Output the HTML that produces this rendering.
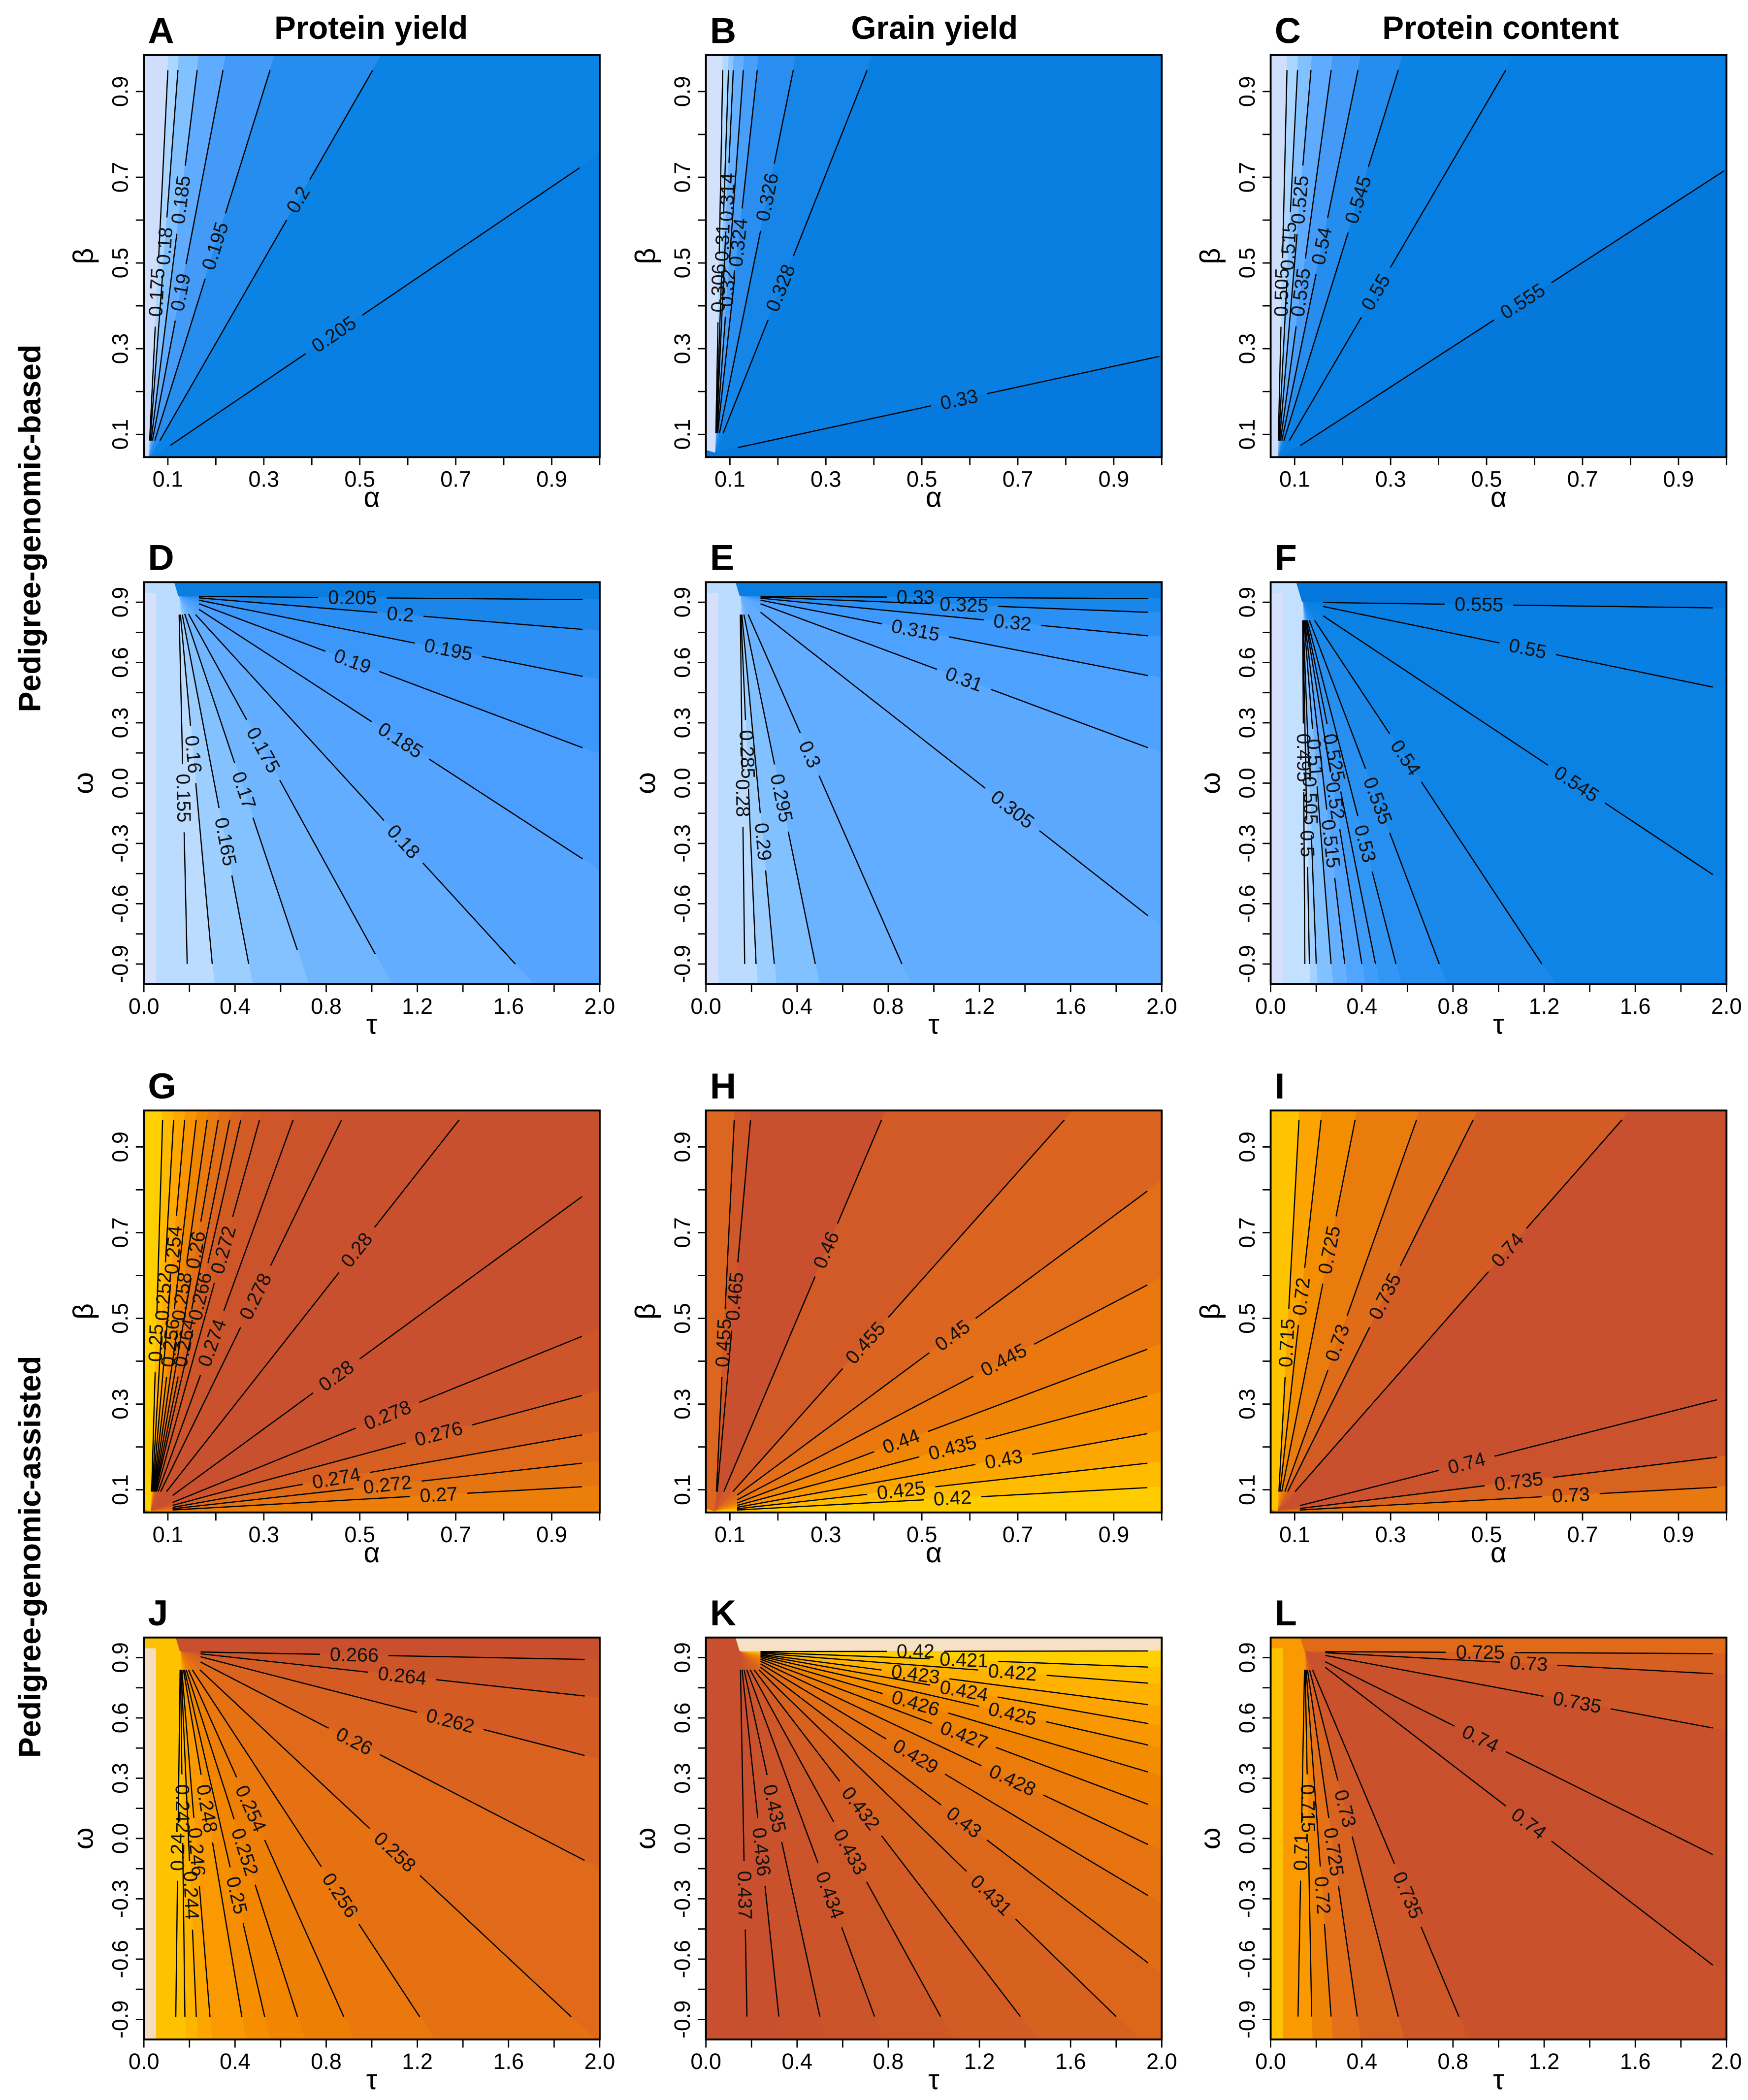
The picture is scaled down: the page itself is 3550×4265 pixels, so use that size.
<!DOCTYPE html>
<html><head><meta charset="utf-8"><title>Contour panels</title>
<style>
html,body{margin:0;padding:0;background:#fff;width:3550px;height:4265px;overflow:hidden;}
svg{display:block;}
text{font-family:"Liberation Sans",sans-serif;}
</style></head>
<body>
<svg id="fig" xmlns="http://www.w3.org/2000/svg" width="3550" height="4265" viewBox="0 0 1300 1562" preserveAspectRatio="none">
  <rect x="0" y="0" width="1300" height="1562" fill="#ffffff"/>
  <text x="276" y="29" font-size="24" font-weight="bold" text-anchor="middle">Protein yield</text>
  <text x="695" y="29" font-size="24" font-weight="bold" text-anchor="middle">Grain yield</text>
  <text x="1116" y="29" font-size="24" font-weight="bold" text-anchor="middle">Protein content</text>
  <text x="0" y="0" transform="translate(30,393) rotate(-90)" font-size="23" font-weight="bold" text-anchor="middle">Pedigree-genomic-based</text>
  <text x="0" y="0" transform="translate(30,1158) rotate(-90)" font-size="23" font-weight="bold" text-anchor="middle">Pedigree-genomic-assisted</text>
</svg>
<script>
// ---------- data ----------
const A_origin=[0.06,0.04];
const A_levels=[0.175,0.18,0.185,0.19,0.195,0.2,0.205];
const A_ends=[[0.100,0.95],[0.121,0.95],[0.161,0.95],[0.215,0.95],[0.313,0.95],[0.527,0.95],[0.958,0.722]];
const B_origin=[0.07,0.058];
const B_levels=[0.306,0.31,0.314,0.32,0.324,0.326,0.328,0.33];
const B_ends=[[0.085,0.95],[0.097,0.95],[0.107,0.95],[0.128,0.95],[0.157,0.95],[0.232,0.95],[0.386,0.95],[0.995,0.282]];
const C_origin=[0.065,0.04];
const C_levels=[0.505,0.515,0.525,0.535,0.54,0.545,0.55,0.555];
const C_ends=[[0.084,0.95],[0.106,0.95],[0.134,0.95],[0.176,0.95],[0.232,0.95],[0.316,0.95],[0.540,0.95],[0.995,0.715]];
const D_origin=[0.153,0.93];
const D_levels=[0.205,0.2,0.195,0.19,0.185,0.18,0.175,0.17,0.165,0.16,0.155];
const D_ends=[[1.925,0.913],[1.925,0.765],[1.925,0.531],[1.925,0.176],[1.925,-0.377],[1.63,-0.90],[1.015,-0.85],[0.673,-0.83],[0.46,-0.90],[0.30,-0.90],[0.19,-0.90]];
const E_origin=[0.15,0.93];
const E_levels=[0.33,0.325,0.32,0.315,0.31,0.305,0.3,0.295,0.29,0.285,0.28];
const E_ends=[[1.94,0.918],[1.94,0.85],[1.94,0.733],[1.94,0.535],[1.94,0.176],[1.94,-0.66],[0.86,-0.90],[0.48,-0.90],[0.30,-0.90],[0.22,-0.90],[0.17,-0.90]];
const F_origin=[0.14,0.90];
const F_levels=[0.555,0.55,0.545,0.54,0.535,0.53,0.525,0.52,0.515,0.51,0.505,0.5,0.495];
const F_ends=[[1.94,0.872],[1.94,0.478],[1.94,-0.455],[1.19,-0.90],[0.74,-0.90],[0.55,-0.90],[0.46,-0.90],[0.40,-0.90],[0.325,-0.90],[0.265,-0.90],[0.20,-0.90],[0.17,-0.90],[0.15,-0.90]];
const G_origin=[0.065,0.05];
const G_levels=[0.25,0.252,0.254,0.256,0.258,0.26,0.264,0.266,0.272,0.274,0.278,0.28,0.28,0.278,0.276,0.274,0.272,0.27];
const G_ends=[[0.089,0.963],[0.112,0.963],[0.135,0.963],[0.159,0.963],[0.182,0.963],[0.205,0.963],[0.229,0.963],[0.252,0.963],[0.291,0.963],[0.361,0.963],[0.462,0.963],[0.707,0.963],[0.963,0.784],[0.963,0.458],[0.963,0.32],[0.963,0.228],[0.963,0.162],[0.963,0.107]];
const H_origin=[0.07,0.05];
const H_levels=[0.455,0.465,0.46,0.455,0.45,0.445,0.44,0.435,0.43,0.425,0.42];
const H_ends=[[0.109,0.963],[0.143,0.963],[0.416,0.963],[0.797,0.963],[0.97,0.797],[0.97,0.578],[0.97,0.428],[0.97,0.319],[0.97,0.231],[0.97,0.162],[0.97,0.105]];
const I_origin=[0.065,0.05];
const I_levels=[0.715,0.72,0.725,0.73,0.735,0.74,0.74,0.735,0.73];
const I_ends=[[0.109,0.963],[0.155,0.963],[0.226,0.963],[0.354,0.963],[0.472,0.963],[0.782,0.963],[0.98,0.31],[0.98,0.176],[0.98,0.106]];
const J_origin=[0.16,0.93];
const J_levels=[0.266,0.264,0.262,0.26,0.258,0.256,0.254,0.252,0.25,0.248,0.246,0.244,0.242,0.24];
const J_ends=[[1.934,0.891],[1.934,0.709],[1.934,0.413],[1.934,-0.109],[1.875,-0.887],[1.21,-0.887],[0.877,-0.887],[0.674,-0.887],[0.53,-0.887],[0.43,-0.887],[0.29,-0.887],[0.23,-0.887],[0.18,-0.887],[0.14,-0.887]];
const K_origin=[0.15,0.93];
const K_levels=[0.42,0.421,0.422,0.423,0.424,0.425,0.426,0.427,0.428,0.429,0.43,0.431,0.432,0.433,0.434,0.435,0.436,0.437];
const K_ends=[[1.94,0.933],[1.94,0.853],[1.94,0.773],[1.94,0.666],[1.94,0.572],[1.94,0.465],[1.94,0.331],[1.94,0.17],[1.94,-0.03],[1.94,-0.284],[1.94,-0.619],[1.80,-0.886],[1.38,-0.886],[1.03,-0.886],[0.74,-0.886],[0.50,-0.886],[0.32,-0.886],[0.18,-0.886]];
const L_origin=[0.15,0.93];
const L_levels=[0.725,0.73,0.735,0.74,0.74,0.735,0.73,0.725,0.72,0.715,0.71];
const L_ends=[[1.94,0.92],[1.94,0.82],[1.94,0.55],[1.94,-0.08],[1.94,-0.63],[0.826,-0.886],[0.56,-0.886],[0.38,-0.886],[0.265,-0.886],[0.18,-0.886],[0.12,-0.886]];
const xTicksAB=[0.1,0.2,0.3,0.4,0.5,0.6,0.7,0.8,0.9,1.0];
const xTickLabelsAB=["0.1","","0.3","","0.5","","0.7","","0.9",""];
const yTicksAB=[0.1,0.2,0.3,0.4,0.5,0.6,0.7,0.8,0.9];
const yTickLabelsAB=["0.1","","0.3","","0.5","","0.7","","0.9"];
const xTicksTO=[0,0.2,0.4,0.6,0.8,1.0,1.2,1.4,1.6,1.8,2.0];
const xTickLabelsTO=["0.0","","0.4","","0.8","","1.2","","1.6","","2.0"];
const yTicksTO=[-0.9,-0.75,-0.6,-0.45,-0.3,-0.15,0,0.15,0.3,0.45,0.6,0.75,0.9];
const yTickLabelsTO=["-0.9","","-0.6","","-0.3","","0.0","","0.3","","0.6","","0.9"];

// ---------- styles ----------
const blueAB=["#cfdffb","#aad6ff","#82c1ff","#5eabff","#439bf7","#248ded","#0b83e5","#077ee1","#0578dc"];
const A_colors=blueAB.slice(0,8);
const B_colors=["#d3e1fa","#b0d9ff","#8ac6ff","#64b0ff","#489ff9","#2a8ef0","#1585e8","#0a7fe2","#0579de"];
const C_colors=blueAB;
const D_colors=["#0a7ee0","#1a86ea","#2b8ff3","#3c97fa","#4a9eff","#55a5ff","#62adff","#70b6ff","#84c2ff","#9ccfff","#bcdcff","#d6e0fb"];
const E_colors=["#0a7ee0","#1886ea","#2a90f3","#3d99fb","#4ea2ff","#5ba9ff","#62adff","#6cb3ff","#82c1ff","#9ccfff","#bcdcff","#d6e0fb"];
const F_colors=["#0576db","#0880e3","#0a82e4","#0d84e6","#1a89ea","#268ff0","#3296f5","#409cf9","#52a5ff","#66b0ff","#82c1ff","#a4d2ff","#c4e0ff","#d6e0fb"];
const G_colors=["#ffcf00","#ffbb00","#ffa800","#f99500","#f08600","#e87a0f","#e06d18","#d9631f","#d35c24","#ce5628","#cb532b","#c9512d","#c8502e","#c8502e","#cd5529","#d65f22","#df6a1a","#e57412","#ec7e0a"];
const H_colors=["#dc661f","#cf5728","#c8502e","#d15a26","#da6420","#e26e1a","#ea780f","#f18506","#f79400","#fca600","#ffbb00","#ffcc00"];
const I_colors=["#ffc400","#fca400","#f38e00","#ea7c0e","#df6c19","#d35c24","#c8502e","#ca522c","#d86220","#e87810"];
const J_colors=["#c8502e","#cc5429","#d45c24","#da6320","#e06a1a","#e57113","#ea780c","#ee7f06","#f28600","#f68f00","#fa9a00","#fda600","#ffb400","#ffc200","#f5ddc2"];
const K_colors=["#f7e0c4","#ffd000","#ffc000","#ffb200","#fda400","#f99700","#f48c00","#ef8300","#eb7b0a","#e6730f","#e16d15","#dc671a","#d7611f","#d25c23","#ce5727","#cb542a","#c9522c","#c8502e","#c8502e"];
const L_colors=["#e06a18","#d65f22","#cf5728","#c9522c","#c6502e","#c9522c","#cf5728","#d8621f","#e4701a","#ef8307","#fa9a00","#ffc200"];

const X0=[107,525,945], Y0=[41,433,826,1218], W=339, H=299;
const panels=[
 {id:'A',type:'ab',col:0,row:0,origin:A_origin,levels:A_levels,ends:A_ends,colors:A_colors},
 {id:'B',type:'ab',col:1,row:0,origin:B_origin,levels:B_levels,ends:B_ends,colors:B_colors},
 {id:'C',type:'ab',col:2,row:0,origin:C_origin,levels:C_levels,ends:C_ends,colors:C_colors},
 {id:'D',type:'to',col:0,row:1,origin:D_origin,levels:D_levels,ends:D_ends,colors:D_colors},
 {id:'E',type:'to',col:1,row:1,origin:E_origin,levels:E_levels,ends:E_ends,colors:E_colors},
 {id:'F',type:'to',col:2,row:1,origin:F_origin,levels:F_levels,ends:F_ends,colors:F_colors},
 {id:'G',type:'ab',col:0,row:2,origin:G_origin,levels:G_levels,ends:G_ends,colors:G_colors},
 {id:'H',type:'ab',col:1,row:2,origin:H_origin,levels:H_levels,ends:H_ends,colors:H_colors},
 {id:'I',type:'ab',col:2,row:2,origin:I_origin,levels:I_levels,ends:I_ends,colors:I_colors},
 {id:'J',type:'to',col:0,row:3,origin:J_origin,levels:J_levels,ends:J_ends,colors:J_colors},
 {id:'K',type:'to',col:1,row:3,origin:K_origin,levels:K_levels,ends:K_ends,colors:K_colors},
 {id:'L',type:'to',col:2,row:3,origin:L_origin,levels:L_levels,ends:L_ends,colors:L_colors}
];

const NS="http://www.w3.org/2000/svg";
const svg=document.getElementById('fig');
function mk(tag,attrs,parent){const e=document.createElementNS(NS,tag);for(const k in attrs)e.setAttribute(k,attrs[k]);(parent||svg).appendChild(e);return e;}
function xDom(p){return p.type==='ab'?[0.05,1.0]:[0,2];}
function yDom(p){return p.type==='ab'?[0.047,0.985]:[-1,1];}
function sx(p,v){const d=xDom(p);return X0[p.col]+(v-d[0])/(d[1]-d[0])*W;}
function sy(p,v){const d=yDom(p);return Y0[p.row]+H-(v-d[0])/(d[1]-d[0])*H;}
// Sutherland-Hodgman clip against axis-aligned rect
function clipPoly(pts,xmin,ymin,xmax,ymax){
  const edges=[
    [function(q){return q[0]>=xmin;},function(a,b){const t=(xmin-a[0])/(b[0]-a[0]);return [xmin,a[1]+t*(b[1]-a[1])];}],
    [function(q){return q[0]<=xmax;},function(a,b){const t=(xmax-a[0])/(b[0]-a[0]);return [xmax,a[1]+t*(b[1]-a[1])];}],
    [function(q){return q[1]>=ymin;},function(a,b){const t=(ymin-a[1])/(b[1]-a[1]);return [a[0]+t*(b[0]-a[0]),ymin];}],
    [function(q){return q[1]<=ymax;},function(a,b){const t=(ymax-a[1])/(b[1]-a[1]);return [a[0]+t*(b[0]-a[0]),ymax];}]
  ];
  let out=pts;
  edges.forEach(function(e){
    const inp=out; out=[];
    for(let i=0;i<inp.length;i++){
      const cur=inp[i], prev=inp[(i+inp.length-1)%inp.length];
      const ci=e[0](cur), pi=e[0](prev);
      if(ci){ if(!pi) out.push(e[1](prev,cur)); out.push(cur);} else if(pi){ out.push(e[1](prev,cur)); }
    }
  });
  return out;
}

panels.forEach(function(p){
  const x0=X0[p.col], y0=Y0[p.row];
  const g=mk('g',{});
  
  
  const fillG=mk('g',{},g);
  
  
  const nC=p.colors.length;
  const bgCol=p.type==='ab'?p.colors[nC-1]:p.colors[nC-2];
  const bg=mk('rect',{x:x0,y:y0,width:W,height:H,fill:bgCol},fillG);
  
  
  const ox=sx(p,p.origin[0]), oy=sy(p,p.origin[1]);
  const dirs=[];
  dirs.push(p.type==='ab'?[-1,-0.3]:[-0.3,-1]);
  p.ends.forEach(function(e){const dx=sx(p,e[0])-ox, dy=sy(p,e[1])-oy;const l=Math.hypot(dx,dy);dirs.push([dx/l,dy/l]);});
  dirs.push(p.type==='ab'?[0.3,1]:[-0.02,1]);
  for(let i=0;i<dirs.length-1;i++){
    const a=dirs[i], b=dirs[i+1], R=2000;
    let col=p.colors[Math.min(i,nC-1)];
    if(p.type==='to' && i===dirs.length-2) col=p.colors[nC-2];
    const pts=clipPoly([[ox,oy],[ox+a[0]*R,oy+a[1]*R],[ox+b[0]*R,oy+b[1]*R]],x0,y0,x0+W,y0+H);
    if(pts.length<3) continue;
    const poly=mk('polygon',{points:pts.map(function(q){return q[0].toFixed(2)+','+q[1].toFixed(2);}).join(' '),fill:col,stroke:col,'stroke-width':0.6,'stroke-linejoin':'bevel'},fillG);
    
    
  }
  if(p.type==='to'){
    const strip=mk('rect',{x:x0,y:y0+8,width:9,height:H-8,fill:p.colors[nC-1]},fillG);
    
    
  }
  // contour lines
  p.levels.forEach(function(lev,i){
    const ex=sx(p,p.ends[i][0]), ey=sy(p,p.ends[i][1]);
    const sxp=ox+(ex-ox)*0.05, syp=oy+(ey-oy)*0.05;
    const L=Math.hypot(ex-sxp,ey-syp);
    const txt=String(lev);
    const lf=0.4+0.25*((i%3)/2);
    const gap=(txt.length*4.1+5)/L;
    const t1=Math.max(0.02,lf-gap), t2=Math.min(0.98,lf+gap);
    const lg=mk('g',{},g);
    
    
    mk('line',{x1:sxp,y1:syp,x2:sxp+(ex-sxp)*t1,y2:syp+(ey-syp)*t1,stroke:'#000','stroke-width':0.9},lg);
    mk('line',{x1:sxp+(ex-sxp)*t2,y1:syp+(ey-syp)*t2,x2:ex,y2:ey,stroke:'#000','stroke-width':0.9},lg);
    let ang=Math.atan2(ey-syp,ex-sxp)*180/Math.PI;
    if(ang>90)ang-=180; if(ang<-90)ang+=180;
    const lx=sxp+(ex-sxp)*lf, ly=syp+(ey-syp)*lf;
    const t=mk('text',{x:0,y:0,transform:'translate('+lx+','+ly+') rotate('+ang+')','font-size':14.5,'text-anchor':'middle','dominant-baseline':'central',fill:'#111'},lg);
    
    
    t.textContent=txt;
  });
  // frame
  const fr=mk('rect',{x:x0,y:y0,width:W,height:H,fill:'none',stroke:'#000','stroke-width':1.4},g);
  
  
  // axes
  const xt=p.type==='ab'?xTicksAB:xTicksTO, xl=p.type==='ab'?xTickLabelsAB:xTickLabelsTO;
  const yt=p.type==='ab'?yTicksAB:yTicksTO, yl=p.type==='ab'?yTickLabelsAB:yTickLabelsTO;
  const xa=mk('g',{},g);
  
  
  xt.forEach(function(v,i){
    const x=sx(p,v);
    mk('line',{x1:x,y1:y0+H,x2:x,y2:y0+H+6,stroke:'#000','stroke-width':1},xa);
    if(xl[i]){const tt=mk('text',{x:x,y:y0+H+22,'font-size':16.5,'text-anchor':'middle'},xa);
      
      
      tt.textContent=xl[i];}
  });
  const xtitle=mk('text',{x:x0+W/2,y:y0+H+37,'font-size':21,'text-anchor':'middle'},xa);
  
  
  xtitle.textContent=p.type==='ab'?'α':'τ';
  const ya=mk('g',{},g);
  
  
  yt.forEach(function(v,i){
    const y=sy(p,v);
    mk('line',{x1:x0-6,y1:y,x2:x0,y2:y,stroke:'#000','stroke-width':1},ya);
    if(yl[i]){const tt=mk('text',{x:0,y:0,transform:'translate('+(x0-12)+','+y+') rotate(-90)','font-size':16.5,'text-anchor':'middle'},ya);
      
      
      tt.textContent=yl[i];}
  });
  const ytitle=mk('text',{x:0,y:0,transform:'translate('+(x0-38)+','+(y0+H/2)+') rotate(-90)','font-size':21,'text-anchor':'middle'},ya);
  
  
  ytitle.textContent=p.type==='ab'?'β':'ω';
  const letter=mk('text',{x:x0+3,y:y0-9,'font-size':27,'font-weight':'bold'},g);
  
  
  letter.textContent=p.id;
});
</script>
</body></html>
